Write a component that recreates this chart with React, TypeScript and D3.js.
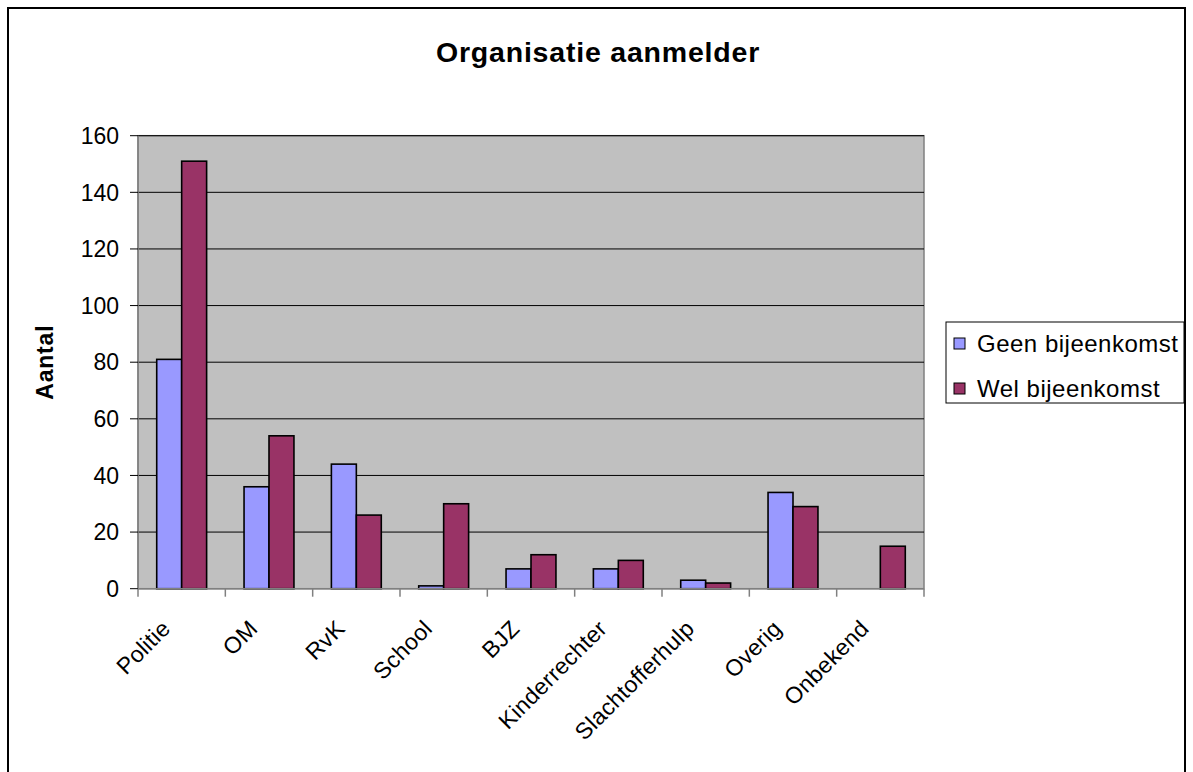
import React from "react";
import * as d3 from "d3";

const categories = ["Politie", "OM", "RvK", "School", "BJZ", "Kinderrechter", "Slachtofferhulp", "Overig", "Onbekend"];
const seriesNames = ["Geen bijeenkomst", "Wel bijeenkomst"];
const geenValues = [81, 36, 44, 1, 7, 7, 3, 34, 0];
const welValues = [151, 54, 26, 30, 12, 10, 2, 29, 15];
const yTicks = [0, 20, 40, 60, 80, 100, 120, 140, 160];
const colors = ["#9999FF", "#993366"];
const FONT = "'Liberation Sans', Arial, sans-serif";

export default function App() {
  const W = 1193, H = 772;
  const left = 138, right = 924, top = 135.7, bottom = 588.7;
  const x0 = d3.scaleBand<string>().domain(categories).range([left, right]).padding(0);
  const x1 = d3.scaleBand<string>().domain(seriesNames).range([0, x0.bandwidth()]).paddingInner(0).paddingOuter(0.75);
  const y = d3.scaleLinear().domain([0, 160]).range([bottom, top]);
  const series = [geenValues, welValues];
  const boundaries = d3.range(categories.length + 1).map((i) => left + i * x0.step());

  return (
    <svg width={W} height={H} style={{ position: "absolute", left: 0, top: 0 }} fontFamily={FONT}>
      <rect x={0} y={0} width={W} height={H} fill="#fff" />
      <rect x={8} y={8} width={1177} height={772} fill="#fff" stroke="#000" strokeWidth={2} />
      <text x={598} y={62} textAnchor="middle" fontSize={28.5} fontWeight="bold" letterSpacing={0.8}>Organisatie aanmelder</text>
      <rect x={left} y={top} width={right - left} height={bottom - top} fill="#C0C0C0" stroke="#808080" strokeWidth={1.5} />
      {yTicks.filter((t) => t > 0).map((t) => (
        <line key={t} x1={left} x2={right} y1={y(t)} y2={y(t)} stroke="#000" strokeWidth={1} />
      ))}
      {series.map((vals, si) =>
        vals.map((v, i) =>
          v > 0 ? (
            <rect key={si + "-" + i}
              x={(x0(categories[i]) as number) + (x1(seriesNames[si]) as number)}
              y={y(v)} width={x1.bandwidth()} height={bottom - y(v)}
              fill={colors[si]} stroke="#000" strokeWidth={1.6} />
          ) : null
        )
      )}
      <line x1={left} x2={left} y1={top} y2={bottom} stroke="#808080" strokeWidth={1.5} />
      <line x1={left} x2={right} y1={bottom} y2={bottom} stroke="#808080" strokeWidth={1.5} />
      {yTicks.map((t) => (
        <g key={t}>
          <line x1={left - 8} x2={left} y1={y(t)} y2={y(t)} stroke="#000" strokeWidth={1} />
          <text x={119} y={y(t)} dy="0.36em" textAnchor="end" fontSize={23}>{t}</text>
        </g>
      ))}
      {boundaries.map((b, i) => (
        <line key={i} x1={b} x2={b} y1={bottom} y2={bottom + 8} stroke="#808080" strokeWidth={1.5} />
      ))}
      {categories.map((c) => {
        const cx = (x0(c) as number) + x0.bandwidth() / 2;
        return (
          <text key={c} transform={`translate(${cx - 10},${630}) rotate(-45)`} textAnchor="end" fontSize={23} letterSpacing={0.3}>{c}</text>
        );
      })}
      <text transform={`translate(53,${(top + bottom) / 2}) rotate(-90)`} textAnchor="middle" fontSize={23} fontWeight="bold" letterSpacing={0.8}>Aantal</text>
      <rect x={946} y={322} width={238} height={81} fill="#fff" stroke="#000" strokeWidth={1} />
      {seriesNames.map((s, i) => (
        <g key={s}>
          <rect x={954} y={338 + i * 45} width={11} height={11} fill={colors[i]} stroke="#000" strokeWidth={1} />
          <text x={977} y={343.5 + i * 45} dy="0.36em" fontSize={24} letterSpacing={0.5}>{s}</text>
        </g>
      ))}
    </svg>
  );
}
